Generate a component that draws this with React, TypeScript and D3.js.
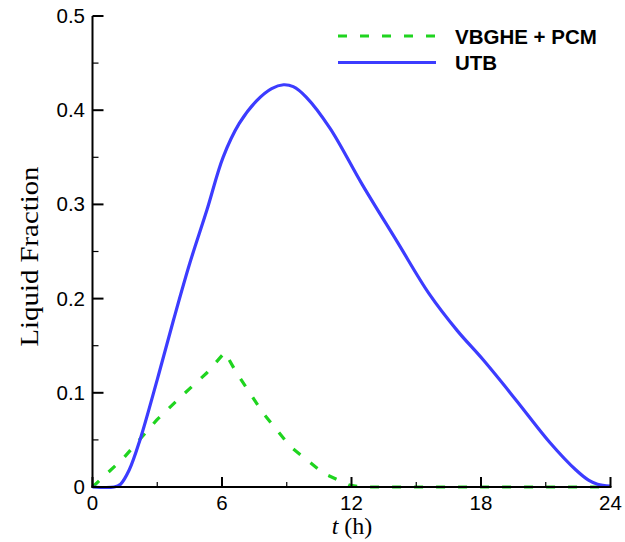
import React from "react";
import * as d3 from "d3";

const utbX = [0, 1.0, 1.3, 1.7, 2.2, 3.0, 3.75, 4.5, 5.3, 6.05, 6.8, 7.6, 8.3, 8.85, 9.3, 9.9, 11.0, 12.5, 14.1, 15.6, 16.9, 18.1, 19.6, 21.2, 22.4, 23.0, 23.4, 24];
const utbY = [0, 0, 0.003, 0.018, 0.05, 0.114, 0.177, 0.237, 0.294, 0.35, 0.386, 0.41, 0.423, 0.427, 0.425, 0.414, 0.381, 0.321, 0.261, 0.205, 0.166, 0.135, 0.093, 0.047, 0.018, 0.007, 0.003, 0.001];
const pcmX = [0, 1.43, 2.97, 4.2, 5.29, 6.13, 6.68, 7.92, 9.16, 10.7, 11.9, 12.5, 24];
const pcmY = [0, 0.0305, 0.071, 0.098, 0.121, 0.143, 0.121, 0.078, 0.043, 0.0145, 0.002, 0, 0];
const xMajor = [0, 6, 12, 18, 24];
const xMinor = [3, 9, 15, 21];
const yMajor = [0, 0.1, 0.2, 0.3, 0.4, 0.5];
const yMinor = [0.05, 0.15, 0.25, 0.35, 0.45];
const seriesNames = ["VBGHE + PCM", "UTB"];

const W = 625, H = 542;
const L = 92.5, R = 610.5, T = 16, B = 487;
const BLUE = "#3c3cff";
const GREEN = "#1fd41f";

export default function App() {
  const x = d3.scaleLinear().domain([0, 24]).range([L, R]);
  const y = d3.scaleLinear().domain([0, 0.5]).range([B, T]);
  const utb = utbX.map((v, i) => [v, utbY[i]] as [number, number]);
  const pcm = pcmX.map((v, i) => [v, pcmY[i]] as [number, number]);
  const lineSmooth = d3.line<[number, number]>().x(d => x(d[0])).y(d => y(d[1])).curve(d3.curveCatmullRom.alpha(0.5));
  const lineLin = d3.line<[number, number]>().x(d => x(d[0])).y(d => y(d[1]));
  const sans = "'Liberation Sans', Arial, sans-serif";
  const serif = "'Liberation Serif', 'Times New Roman', serif";
  return (
    <svg width={W} height={H} style={{ position: "absolute", left: 0, top: 0, background: "#fff" }}>
      <rect width={W} height={H} fill="#fff" />
      <defs>
        <clipPath id="plot">
          <rect x={L - 2} y={T - 2} width={R - L + 4} height={B - T + 4} />
        </clipPath>
      </defs>
      <g clipPath="url(#plot)">
        <path d={lineLin(pcm) || ""} fill="none" stroke={GREEN} strokeWidth={3.2} strokeDasharray="9 13" />
        <path d={lineSmooth(utb) || ""} fill="none" stroke={BLUE} strokeWidth={3.2} />
      </g>
      <line x1={L} x2={L} y1={T} y2={B + 1} stroke="#000" strokeWidth={2} />
      <line x1={L - 1} x2={R + 1} y1={B} y2={B} stroke="#000" strokeWidth={2} />
      {xMajor.map(v => (
        <g key={"xm" + v}>
          <line x1={x(v)} x2={x(v)} y1={B} y2={B - 10} stroke="#000" strokeWidth={2} />
          <text x={x(v)} y={509.5} textAnchor="middle" fontFamily={sans} fontSize={20.5}>{v}</text>
        </g>
      ))}
      {xMinor.map(v => (
        <line key={"xn" + v} x1={x(v)} x2={x(v)} y1={B} y2={B - 5} stroke="#000" strokeWidth={1.2} />
      ))}
      {yMajor.map(v => (
        <g key={"ym" + v}>
          <line x1={L} x2={L + 11} y1={y(v)} y2={y(v)} stroke="#000" strokeWidth={2} />
          <text x={85} y={y(v) + 7} textAnchor="end" fontFamily={sans} fontSize={20.5}>{v === 0 ? "0" : v.toFixed(1)}</text>
        </g>
      ))}
      {yMinor.map(v => (
        <line key={"yn" + v} x1={L} x2={L + 6} y1={y(v)} y2={y(v)} stroke="#000" strokeWidth={1.2} />
      ))}
      <text x={352} y={534} textAnchor="middle" fontFamily={serif} fontSize={24}>
        <tspan fontStyle="italic">t</tspan> (h)
      </text>
      <text transform="translate(38,256.5) rotate(-90)" textAnchor="middle" fontFamily={serif} fontSize={25} textLength={180} lengthAdjust="spacingAndGlyphs">
        Liquid Fraction
      </text>
      <line x1={338} x2={436} y1={36} y2={36} stroke={GREEN} strokeWidth={3.2} strokeDasharray="9 13" />
      <text x={455} y={43.5} fontFamily={sans} fontWeight="bold" fontSize={20.5}>{seriesNames[0]}</text>
      <line x1={338} x2={436} y1={62.5} y2={62.5} stroke={BLUE} strokeWidth={3.2} />
      <text x={455} y={70} fontFamily={sans} fontWeight="bold" fontSize={20.5}>{seriesNames[1]}</text>
    </svg>
  );
}
